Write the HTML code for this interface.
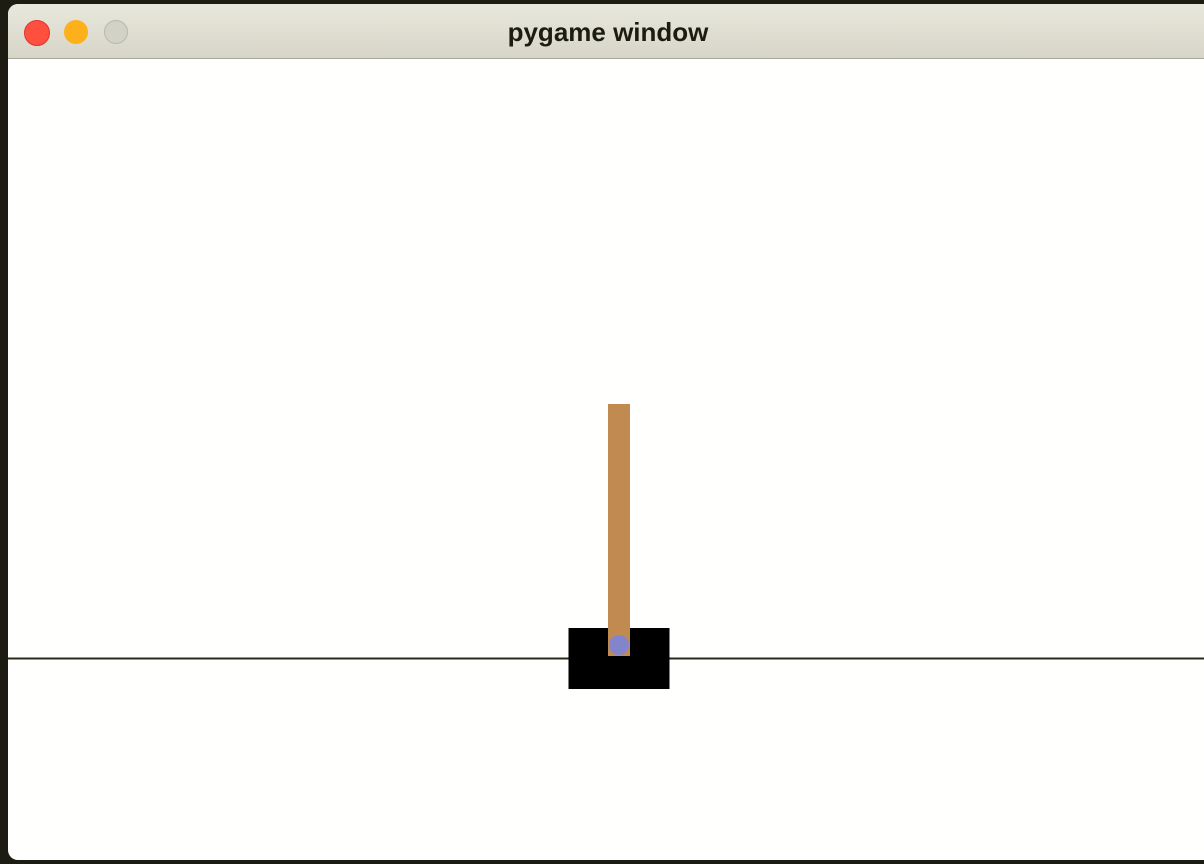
<!DOCTYPE html>
<html><head><meta charset="utf-8"><style>
body{margin:0;width:1204px;height:864px;background:#1c1c12;overflow:hidden;position:relative;font-family:"Liberation Sans",sans-serif}
#win{position:absolute;left:8px;top:4px;width:1200px;height:856px;background:#fffffd;border-radius:10px 0 0 10px;overflow:hidden}
#bar{position:absolute;left:0;top:0;right:0;height:54px;background:linear-gradient(#e9e8dc,#d6d5c8);border-bottom:1px solid #a9a89a}
.dot{position:absolute;top:16px;width:24px;height:24px;border-radius:50%}
#title{position:absolute;left:0;right:0;top:13px;text-align:center;font-weight:bold;font-size:26px;color:#1c1c10}
</style></head><body>
<div id="win">
 <div id="bar">
  <div class="dot" style="left:16px;background:#fe4f3f;border:0.5px solid #d33"></div>
  <div class="dot" style="left:56px;background:#fdb01a"></div>
  <div class="dot" style="left:96px;background:#d3d2c6;border:1px solid #b8b7ac;box-sizing:border-box"></div>
  <div id="title">pygame window</div>
 </div>
 <svg id="scene" width="1200" height="856" style="position:absolute;left:0;top:0"></svg>
</div>
<script>
const cartX=[611];      // cart centre in window px (data)
const poleAngle=[0];    // radians
const ns="http://www.w3.org/2000/svg";
const s=document.getElementById('scene');
function mk(t,a,name){const e=document.createElementNS(ns,t);for(const k in a)e.setAttribute(k,a[k]);


s.appendChild(e);return e;}
const trackY=654.5;
mk('line',{x1:0,y1:trackY,x2:1200,y2:trackY,stroke:'#2a2a18','stroke-width':2},'track-line');
const cx=cartX[0];
mk('rect',{x:cx-50.5,y:624,width:101,height:61,fill:'#000'},'cart');
const ax=cx, ay=641;
const g=mk('g',{transform:`rotate(${poleAngle[0]*180/Math.PI} ${ax} ${ay})`},'pole-group');
const pole=document.createElementNS(ns,'rect');
pole.setAttribute('x',ax-11);pole.setAttribute('y',400);pole.setAttribute('width',22);pole.setAttribute('height',252);pole.setAttribute('fill','#c08a50');


g.appendChild(pole);
mk('circle',{cx:ax,cy:ay,r:10,fill:'#8385cc'},'axle');
</script>
</body></html>
